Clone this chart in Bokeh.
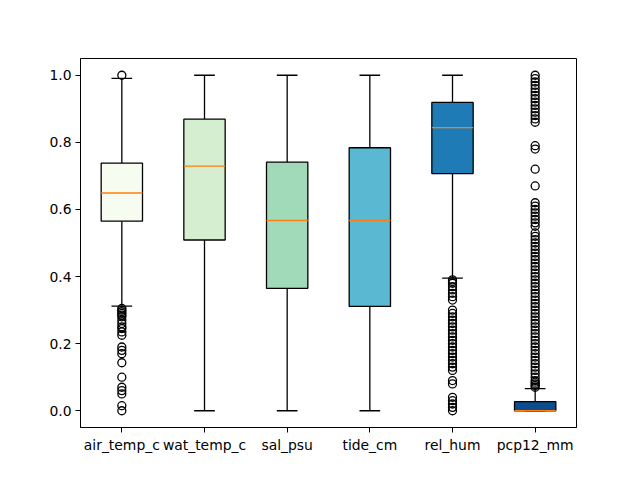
from bokeh.plotting import figure
from bokeh.models import FixedTicker, Range1d
from bokeh.embed import file_html
from bokeh.resources import INLINE

labels = ["air_temp_c", "wat_temp_c", "sal_psu", "tide_cm", "rel_hum", "pcp12_mm"]
q1 = [0.565, 0.509, 0.365, 0.311, 0.707, 0.0]
med = [0.649, 0.729, 0.567, 0.567, 0.844, 0.0]
q3 = [0.738, 0.869, 0.741, 0.784, 0.919, 0.027]
wlo = [0.312, 0.0, 0.0, 0.0, 0.395, 0.0]
whi = [0.991, 1.0, 1.0, 1.0, 1.0, 0.066]
colors = ["#f7fcf0", "#d5eecf", "#a0dab8", "#5ab8d2", "#1f7bb6", "#0b4b8e"]

out_air = [1.0, 0.305, 0.30, 0.295, 0.29, 0.285, 0.28, 0.27, 0.26, 0.25, 0.245,
           0.235, 0.225, 0.19, 0.18, 0.17, 0.143, 0.10, 0.07, 0.06, 0.05, 0.015, 0.0]
out_wat = []
out_sal = []
out_tide = []
out_hum = [0.39, 0.385, 0.38, 0.37, 0.36, 0.35, 0.34, 0.33, 0.30, 0.29, 0.28, 0.27,
           0.26, 0.25, 0.24, 0.23, 0.22, 0.21, 0.20, 0.19, 0.18, 0.17, 0.16, 0.15,
           0.14, 0.13, 0.12, 0.09, 0.08, 0.04, 0.03, 0.02, 0.01, 0.0]
out_pcp = [1.0, 0.99, 0.98, 0.97, 0.96, 0.95, 0.94, 0.93, 0.92, 0.91, 0.90, 0.89,
           0.88, 0.87, 0.86, 0.79, 0.78, 0.72, 0.67, 0.62, 0.61, 0.60, 0.59, 0.58,
           0.57, 0.56, 0.55, 0.53, 0.52, 0.51, 0.50, 0.49, 0.48, 0.47, 0.46, 0.45,
           0.44, 0.43, 0.42, 0.41, 0.40, 0.39, 0.38, 0.37, 0.36, 0.35, 0.34, 0.33,
           0.32, 0.31, 0.30, 0.29, 0.28, 0.27, 0.26, 0.25, 0.24, 0.23, 0.22, 0.21,
           0.20, 0.19, 0.18, 0.17, 0.16, 0.15, 0.14, 0.13, 0.12, 0.11, 0.10, 0.09,
           0.085, 0.08, 0.075, 0.07]
outliers = [out_air, out_wat, out_sal, out_tide, out_hum, out_pcp]

pos = list(range(1, len(labels) + 1))

p = figure(frame_width=496, frame_height=369, output_backend="svg",
           toolbar_location=None, x_range=Range1d(0.5, 6.5), y_range=Range1d(-0.05, 1.05),
           min_border_left=80, min_border_right=48, min_border_top=58, min_border_bottom=37)
p.background_fill_color = "white"
p.border_fill_color = "white"
p.outline_line_color = "black"
p.outline_line_width = 1
p.xgrid.visible = False
p.ygrid.visible = False

lw = 1.3
bw = 0.25
cw = 0.125
# whiskers
p.segment(x0=pos, y0=q3, x1=pos, y1=whi, line_color="black", line_width=lw)
p.segment(x0=pos, y0=q1, x1=pos, y1=wlo, line_color="black", line_width=lw)
# caps
p.segment(x0=[x - cw for x in pos], y0=whi, x1=[x + cw for x in pos], y1=whi, line_color="black", line_width=lw)
p.segment(x0=[x - cw for x in pos], y0=wlo, x1=[x + cw for x in pos], y1=wlo, line_color="black", line_width=lw)
# boxes
p.quad(left=[x - bw for x in pos], right=[x + bw for x in pos], bottom=q1, top=q3,
       fill_color=colors, line_color="black", line_width=lw)
# medians
p.segment(x0=[x - bw for x in pos], y0=med, x1=[x + bw for x in pos], y1=med,
          line_color="#ff7f0e", line_width=lw)
# outliers
ox = []
oy = []
for x, vals in zip(pos, outliers):
    for v in vals:
        ox.append(x)
        oy.append(v)
p.scatter(ox, oy, marker="circle", size=8, fill_color=None, line_color="black", line_width=lw)

p.xaxis.ticker = FixedTicker(ticks=pos)
p.xaxis.major_label_overrides = {x: l for x, l in zip(pos, labels)}
p.yaxis.ticker = FixedTicker(ticks=[0.0, 0.2, 0.4, 0.6, 0.8, 1.0])
p.yaxis.major_label_overrides = {0.0: "0.0", 0.2: "0.2", 0.4: "0.4", 0.6: "0.6", 0.8: "0.8", 1.0: "1.0"}
for ax in (p.xaxis, p.yaxis):
    ax.major_tick_out = 5
    ax.major_tick_in = 0
    ax.minor_tick_line_color = None
    ax.axis_line_color = "black"
    ax.major_tick_line_color = "black"
    ax.major_label_text_font = "DejaVu Sans"
    ax.major_label_text_font_size = "13.9px"
    ax.major_label_text_color = "black"
    ax.major_label_standoff = 4

open("out.html", "w").write(file_html(p, INLINE))
